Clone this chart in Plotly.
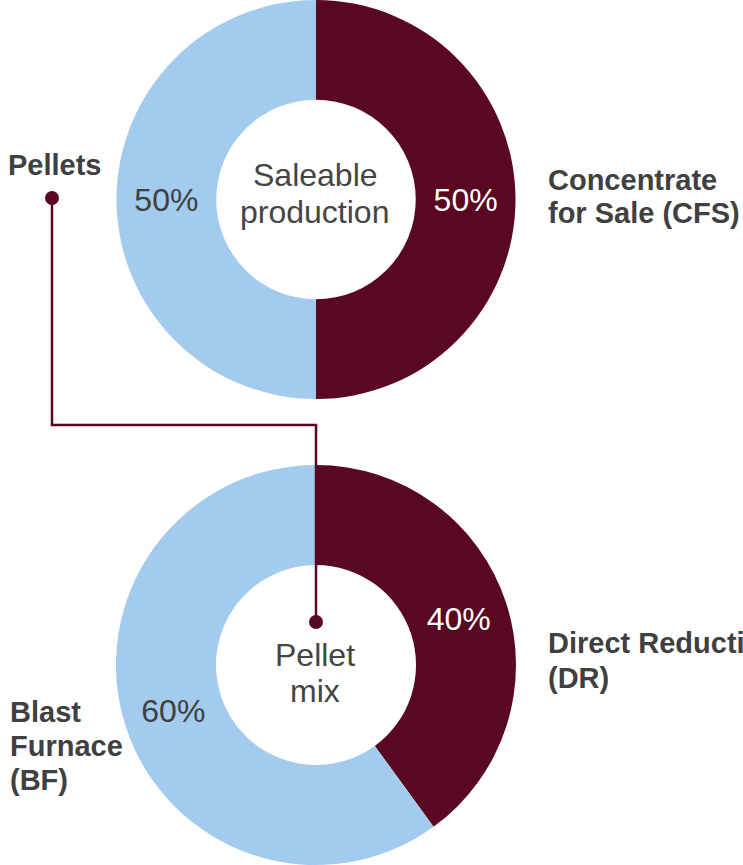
import plotly.graph_objects as go

W, H = 743, 865

# Data
top_labels = ["Concentrate for Sale (CFS)", "Pellets"]
top_values = [50, 50]
bottom_labels = ["Direct Reduction (DR)", "Blast Furnace (BF)"]
bottom_values = [40, 60]
top_center = ["Saleable", "production"]
bottom_center = ["Pellet", "mix"]

MAROON = "#5a0721"
BLUE = "#a3cbee"
GREY = "#404040"
FONT = "Liberation Sans, Arial"

fig = go.Figure()

def px(x):
    return x / W

def py(y):
    return 1 - y / H

fig.add_trace(go.Pie(
    labels=top_labels, values=top_values, hole=0.5, sort=False,
    direction="clockwise", rotation=0,
    marker=dict(colors=[MAROON, BLUE], line=dict(width=0)),
    textinfo="percent", textposition="inside", insidetextorientation="horizontal",
    insidetextfont=dict(color=["white", GREY], size=32, family=FONT),
    domain=dict(x=[px(116), px(516)], y=[py(399), 1]),
    showlegend=False, hoverinfo="label+percent",
))
fig.add_trace(go.Pie(
    labels=bottom_labels, values=bottom_values, hole=0.5, sort=False,
    direction="clockwise", rotation=0,
    marker=dict(colors=[MAROON, BLUE], line=dict(width=0)),
    textinfo="percent", textposition="inside", insidetextorientation="horizontal",
    insidetextfont=dict(color=["white", GREY], size=32, family=FONT),
    domain=dict(x=[px(116), px(516)], y=[0, py(465)]),
    showlegend=False, hoverinfo="label+percent",
))

# invisible pixel-coordinate axes for shapes/annotations
fig.add_trace(go.Scatter(x=[0, W], y=[0, H], mode="markers",
                         marker=dict(opacity=0), showlegend=False, hoverinfo="skip"))

shapes = [
    dict(type="path", path="M52,198 V425 H316 V622", xref="x", yref="y",
         line=dict(color=MAROON, width=2.5), layer="above"),
    dict(type="circle", x0=45, x1=59, y0=191, y1=205, xref="x", yref="y",
         fillcolor=MAROON, line=dict(width=0), layer="above"),
    dict(type="circle", x0=309, x1=323, y0=615, y1=629, xref="x", yref="y",
         fillcolor=MAROON, line=dict(width=0), layer="above"),
]

annotations = []
def ann(text, x, y, size=29, bold=True, xanchor="left", color=GREY):
    annotations.append(dict(
        text=f"<b>{text}</b>" if bold else text, x=x, y=y, xref="x", yref="y",
        showarrow=False, xanchor=xanchor, yanchor="middle",
        font=dict(size=size, color=color, family=FONT),
    ))

ann("Pellets", 6, 165)
ann("Concentrate", 546, 180)
ann("for Sale (CFS)", 546, 213)
ann("Direct Reduction", 546, 643)
ann("(DR)", 546, 678)
ann("Blast", 8, 712)
ann("Furnace", 8, 746)
ann("(BF)", 8, 780)
ann(top_center[0], 315, 175, size=32, bold=False, xanchor="center", color="#454545")
ann(top_center[1], 314, 212, size=32, bold=False, xanchor="center", color="#454545")
ann(bottom_center[0], 315, 655, size=32, bold=False, xanchor="center", color="#454545")
ann(bottom_center[1], 315, 691, size=32, bold=False, xanchor="center", color="#454545")

fig.update_layout(
    width=W, height=H, margin=dict(l=0, r=0, t=0, b=0),
    paper_bgcolor="white", plot_bgcolor="rgba(0,0,0,0)",
    xaxis=dict(range=[0, W], visible=False, fixedrange=True),
    yaxis=dict(range=[H, 0], visible=False, fixedrange=True),
    shapes=shapes, annotations=annotations, showlegend=False,
)

fig.write_html("out.html")
